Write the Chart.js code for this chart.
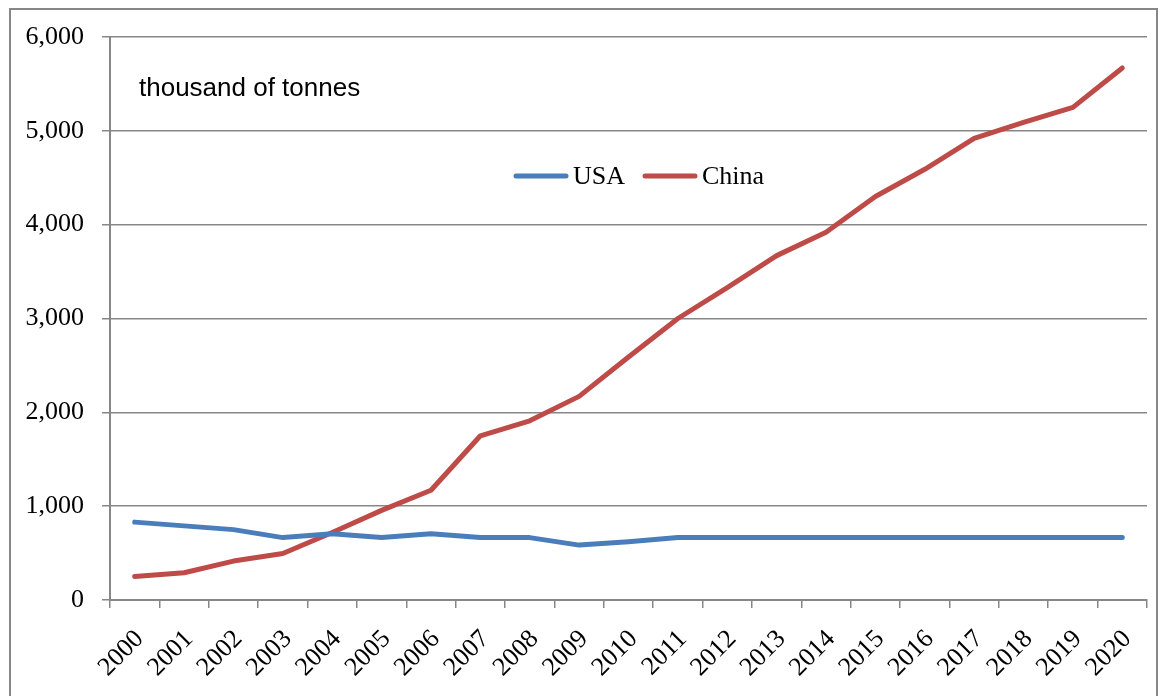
<!DOCTYPE html>
<html>
<head>
<meta charset="utf-8">
<script src="https://cdn.jsdelivr.net/npm/chart.js@4.4.0/dist/chart.umd.min.js"></script>
<style>
  html, body { margin: 0; padding: 0; background: #fff; }
  #wrap { width: 1160px; height: 696px; position: relative; }
</style>
</head>
<body>
<div id="wrap"><canvas id="chart" width="1160" height="696"></canvas></div>
<script>
// anos e valores (mil toneladas)
const years = ['2000', '2001', '2002', '2003', '2004', '2005', '2006', '2007', '2008', '2009', '2010',
  '2011', '2012', '2013', '2014', '2015', '2016', '2017', '2018', '2019', '2020'];
const usaValues = [830, 790, 750, 665, 705, 665, 705, 665, 665, 585, 620,
  665, 665, 665, 665, 665, 665, 665, 665, 665, 665];
const chinaValues = [250, 290, 415, 495, 720, 955, 1170, 1750, 1910, 2170, 2590,
  3000, 3330, 3670, 3920, 4300, 4590, 4920, 5090, 5250, 5670];
const unitLabel = 'thousand of tonnes';

const gridColor = '#878787';
const serif = '"Liberation Serif", "Times New Roman", serif';

// moldura, texto da unidade e legenda dentro da área do gráfico
const extras = {
  id: 'extras',
  afterDraw(chart) {
    const ctx = chart.ctx;
    ctx.save();
    ctx.strokeStyle = gridColor;
    ctx.lineWidth = 2;
    ctx.strokeRect(10, 9, 1147, 720);

    ctx.fillStyle = '#000';
    ctx.font = '26px "Liberation Sans", Arial, sans-serif';
    ctx.textBaseline = 'middle';
    ctx.textAlign = 'left';
    ctx.fillText(unitLabel, 139, 89);

    // legenda: linha curta + nome
    let x = 516;
    const y = 176;
    ctx.font = '26px ' + serif;
    chart.data.datasets.forEach(ds => {
      ctx.strokeStyle = ds.borderColor;
      ctx.lineWidth = 5;
      ctx.lineCap = 'round';
      ctx.beginPath();
      ctx.moveTo(x, y);
      ctx.lineTo(x + 50, y);
      ctx.stroke();
      ctx.fillStyle = '#000';
      ctx.fillText(ds.label, x + 57, y + 1);
      x += 57 + ctx.measureText(ds.label).width + 20;
    });
    ctx.restore();
  }
};

new Chart(document.getElementById('chart'), {
  type: 'line',
  data: {
    labels: years,
    datasets: [
      { label: 'USA', data: usaValues, borderColor: '#4A7EBB', backgroundColor: '#4A7EBB' },
      { label: 'China', data: chinaValues, borderColor: '#BE4B48', backgroundColor: '#BE4B48' }
    ]
  },
  options: {
    responsive: false,
    animation: false,
    events: [],
    layout: { padding: { left: 0, right: 13, top: 37, bottom: 0 } },
    elements: {
      point: { radius: 0 },
      line: { borderWidth: 5, tension: 0, borderCapStyle: 'round', borderJoinStyle: 'round' }
    },
    plugins: {
      legend: { display: false },
      tooltip: { enabled: false }
    },
    scales: {
      x: {
        offset: true,
        grid: {
          offset: true,
          drawOnChartArea: false,
          drawTicks: true,
          tickLength: 8,
          color: gridColor,
          lineWidth: 1.5
        },
        border: { color: gridColor, width: 2 },
        ticks: {
          color: '#000',
          font: { family: serif, size: 26 },
          minRotation: 45,
          maxRotation: 45,
          autoSkip: false,
          padding: 16,
          labelOffset: 5
        },
        afterFit(scale) {
          scale.height = 96;
          scale.paddingLeft = 0;
          scale.paddingRight = 0;
        }
      },
      y: {
        min: 0,
        max: 6000,
        ticks: {
          stepSize: 1000,
          color: '#000',
          font: { family: serif, size: 26 },
          padding: 18,
          callback: v => v.toLocaleString('en-US')
        },
        grid: { color: gridColor, lineWidth: 1.5, tickLength: 8 },
        border: { color: gridColor, width: 2 },
        afterFit(scale) { scale.width = 110; }
      }
    }
  },
  plugins: [extras]
});
</script>
</body>
</html>
